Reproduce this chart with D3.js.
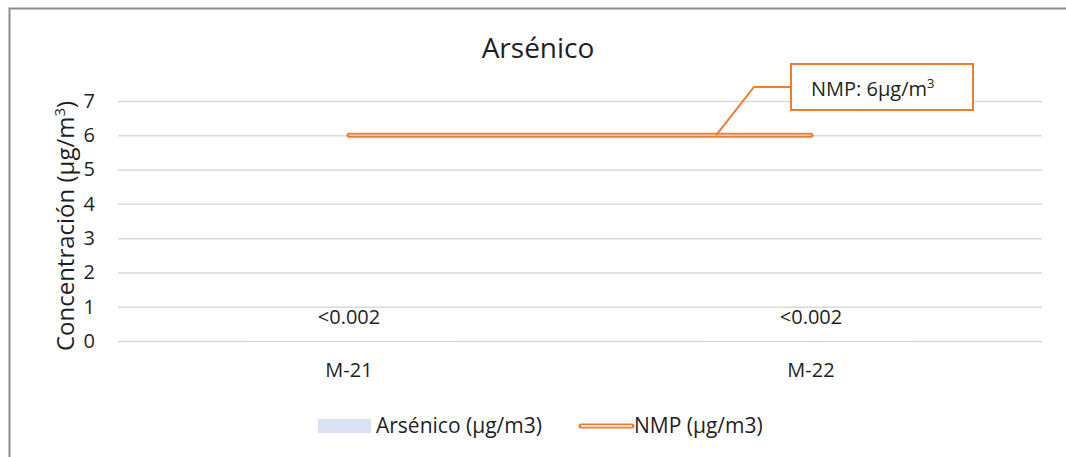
<!DOCTYPE html>
<html lang="es">
<head>
<meta charset="UTF-8">
<title>Arsénico</title>
<script src="https://d3js.org/d3.v7.min.js"></script>
<style>
  html, body { margin: 0; background: #fff; overflow: hidden; }
  svg { display: block; }
  svg text { font-family: "Open Sans", "Noto Sans", sans-serif; fill: #1f1f1f; }
</style>
</head>
<body>
<svg id="chart" width="1066" height="457"></svg>
<script>

// data
const categories = ['M-21', 'M-22'];
const arsenico = [0.002, 0.002];
const arsenicoLabels = ['<0.002', '<0.002'];
const nmp = [6, 6];
const yTicks = [0, 1, 2, 3, 4, 5, 6, 7];

const svg = d3.select('#chart');
const margin = { left: 118, right: 24, top: 101, bottom: 116 };
const W = 1066, H = 457;

// chart frame (only top/left edges are visible in the picture)
svg.append('rect')
    .attr('x', 9.5).attr('y', 8.5)
    .attr('width', 1080).attr('height', 470)
    .attr('fill', 'none').attr('stroke', '#8c8c8c').attr('stroke-width', 2);

const x = d3.scaleBand().domain(categories).range([margin.left, W - margin.right]);
const y = d3.scaleLinear().domain([0, 7]).range([H - margin.bottom, margin.top]);

// gridlines + y tick labels
const yAxis = d3.axisLeft(y).tickValues(yTicks).tickSize(-(W - margin.right - margin.left)).tickPadding(23).tickFormat(d3.format('d'));
const gy = svg.append('g').attr('transform', `translate(${margin.left},0)`).call(yAxis);
gy.select('.domain').remove();
gy.selectAll('.tick line').attr('stroke', '#d9d9d9').attr('stroke-width', 1.5);
gy.selectAll('.tick text').attr('font-size', 20).attr('fill', '#1f1f1f');

// x labels
const xAxis = d3.axisBottom(x).tickSize(0).tickPadding(22);
const gx = svg.append('g').attr('transform', `translate(0,${H - margin.bottom})`).call(xAxis);
gx.select('.domain').remove();
gx.selectAll('.tick text').attr('font-size', 20).attr('fill', '#1f1f1f');

// bars (practically zero height)
const bw = x.bandwidth() * 0.45;
svg.selectAll('rect.bar').data(arsenico).enter().append('rect')
    .attr('class', 'bar')
    .attr('x', (d, i) => x(categories[i]) + x.bandwidth() / 2 - bw / 2)
    .attr('y', d => y(d))
    .attr('width', bw)
    .attr('height', d => y(0) - y(d))
    .attr('fill', '#d9e2f3');

svg.selectAll('text.blabel').data(arsenicoLabels).enter().append('text')
    .attr('class', 'blabel')
    .attr('x', (d, i) => x(categories[i]) + x.bandwidth() / 2)
    .attr('y', (d, i) => y(arsenico[i]) - 17)
    .attr('text-anchor', 'middle')
    .attr('font-size', 20)
    .text(d => d);

// NMP line (double stroke look)
const line = d3.line()
    .x((d, i) => x(categories[i]) + x.bandwidth() / 2)
    .y(d => y(d));
svg.append('path').datum(nmp).attr('d', line)
    .attr('fill', 'none').attr('stroke', '#ed7d31').attr('stroke-width', 5).attr('stroke-linecap', 'round');
svg.append('path').datum(nmp).attr('d', line)
    .attr('fill', 'none').attr('stroke', '#f8cbad').attr('stroke-width', 1.6);

// callout
const calloutX = 791, calloutY = 64, calloutW = 182, calloutH = 46;
svg.append('polyline')
    .attr('points', `${716},${y(nmp[1])} ${754},${87} ${calloutX},${87}`)
    .attr('fill', 'none').attr('stroke', '#ed7d31').attr('stroke-width', 2);
svg.append('rect')
    .attr('x', calloutX).attr('y', calloutY).attr('width', calloutW).attr('height', calloutH)
    .attr('fill', '#fff').attr('stroke', '#ed7d31').attr('stroke-width', 2);
const ct = svg.append('text').attr('x', 811).attr('y', 96).attr('font-size', 20);
ct.append('tspan').text('NMP: 6µg/m');
ct.append('tspan').attr('font-size', 13).attr('dy', -8).text('3');

// title
svg.append('text').attr('x', 538).attr('y', 58).attr('text-anchor', 'middle')
    .attr('font-size', 28).text('Arsénico');

// y axis title
const yt = svg.append('text')
    .attr('transform', 'translate(74,226) rotate(-90)')
    .attr('text-anchor', 'middle').attr('font-size', 24);
yt.append('tspan').text('Concentración (µg/m');
yt.append('tspan').attr('font-size', 15).attr('dy', -9).text('3');
yt.append('tspan').attr('dy', 9).text(')');

// legend
const lg = svg.append('g');
lg.append('rect').attr('x', 318).attr('y', 419).attr('width', 53).attr('height', 14).attr('fill', '#d9e2f3');
lg.append('text').attr('x', 376).attr('y', 433).attr('font-size', 21).text('Arsénico (µg/m3)');
lg.append('line').attr('x1', 581).attr('x2', 632).attr('y1', 426).attr('y2', 426)
    .attr('stroke', '#ed7d31').attr('stroke-width', 5).attr('stroke-linecap', 'round');
lg.append('line').attr('x1', 581).attr('x2', 632).attr('y1', 426).attr('y2', 426)
    .attr('stroke', '#fff').attr('stroke-width', 1.6);
lg.append('text').attr('x', 634).attr('y', 433).attr('font-size', 21).text('NMP (µg/m3)');

</script>
</body>
</html>
